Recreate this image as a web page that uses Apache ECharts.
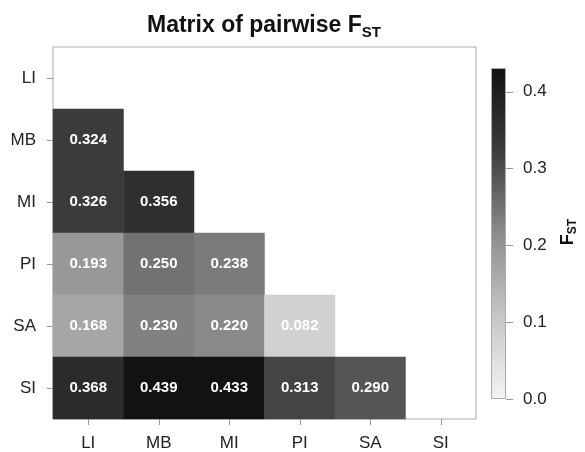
<!DOCTYPE html>
<html><head><meta charset="utf-8">
<script src="https://cdn.jsdelivr.net/npm/echarts@6/dist/echarts.min.js"></script>
<style>html,body{margin:0;padding:0;background:#fff}#c{width:585px;height:452px}</style>
</head><body><div id="c"></div>
<script>
const populations = ['LI', 'MB', 'MI', 'PI', 'SA', 'SI'];
const fstMB = [0.324];
const fstMI = [0.326, 0.356];
const fstPI = [0.193, 0.250, 0.238];
const fstSA = [0.168, 0.230, 0.220, 0.082];
const fstSI = [0.368, 0.439, 0.433, 0.313, 0.290];
const colorTicks = [0, 0.1, 0.2, 0.3, 0.4];
const colorMin = 0;
const colorMax = 0.431;
const grayRamp = ['#f4f4f4', '#c6c6c6', '#8c8c8c', '#3c3c3c', '#121212'];

const FONT = "'Liberation Sans', Arial, sans-serif";
const rows = { MB: fstMB, MI: fstMI, PI: fstPI, SA: fstSA, SI: fstSI };
const cells = [];
Object.keys(rows).forEach(function (r) {
  const yi = populations.indexOf(r);
  rows[r].forEach(function (v, xi) { cells.push([xi, yi, v]); });
});
const barGradient = new echarts.graphic.LinearGradient(0, 0, 0, 1,
  grayRamp.slice().reverse().map(function (c, i) { return { offset: i / (grayRamp.length - 1), color: c }; }));

const chart = echarts.init(document.getElementById('c'));
chart.setOption({
  animation: false,
  backgroundColor: '#fff',
  title: {
    text: '{a|Matrix of pairwise F}{b|ST}',
    left: 147, top: 12, padding: 0,
    textStyle: {
      fontFamily: FONT,
      rich: {
        a: { fontSize: 23, fontWeight: 'bold', color: '#111', lineHeight: 28, fontFamily: FONT },
        b: { fontSize: 15, fontWeight: 'bold', color: '#111', lineHeight: 18, verticalAlign: 'bottom', fontFamily: FONT }
      }
    }
  },
  grid: [
    { left: 53, top: 47, width: 423, height: 372, show: true, borderColor: '#aaa', borderWidth: 1, outerBoundsMode: 'none' },
    { left: 491, top: 68, width: 15, height: 331, show: false, outerBoundsMode: 'none' }
  ],
  xAxis: [
    {
      gridIndex: 0, type: 'category', data: populations,
      axisLine: { show: false },
      axisTick: { show: true, alignWithLabel: true, length: 6, lineStyle: { color: '#999' } },
      axisLabel: { fontSize: 17, color: '#222', margin: 16, fontFamily: FONT },
      splitLine: { show: false }, splitArea: { show: false }
    },
    { gridIndex: 1, type: 'category', data: ['F'], show: false }
  ],
  yAxis: [
    {
      gridIndex: 0, type: 'category', inverse: true, data: populations,
      axisLine: { show: false },
      axisTick: { show: true, alignWithLabel: true, length: 6, lineStyle: { color: '#999' } },
      axisLabel: { fontSize: 17, color: '#222', margin: 17, fontFamily: FONT },
      splitLine: { show: false }, splitArea: { show: false }
    },
    {
      gridIndex: 1, type: 'value', position: 'right', min: colorMin, max: colorMax,
      axisLine: { show: false },
      axisTick: { show: true, length: 7, lineStyle: { color: '#999' }, customValues: colorTicks },
      axisLabel: { fontSize: 17, color: '#222', margin: 17, fontFamily: FONT, customValues: colorTicks,
        formatter: function (v) { return v.toFixed(1); } },
      splitLine: { show: false }
    }
  ],
  visualMap: {
    type: 'continuous', show: false, min: colorMin, max: colorMax, seriesIndex: 0, dimension: 2,
    inRange: { color: grayRamp },
    outOfRange: { color: [grayRamp[grayRamp.length - 1]] }
  },
  series: [
    {
      type: 'heatmap', xAxisIndex: 0, yAxisIndex: 0, data: cells,
      label: { show: true, color: '#fff', fontWeight: 'bold', fontSize: 15, fontFamily: FONT,
        formatter: function (p) { return p.value[2].toFixed(3); } },
      itemStyle: { borderWidth: 0 },
      emphasis: { disabled: true }
    },
    {
      type: 'bar', xAxisIndex: 1, yAxisIndex: 1, data: [colorMax], barWidth: '100%', silent: true,
      itemStyle: { color: barGradient, borderColor: '#aaa', borderWidth: 1 }
    }
  ],
  graphic: [
    {
      type: 'text', x: 568, y: 232, rotation: Math.PI / 2,
      style: {
        text: '{a|F}{b|ST}', align: 'center', verticalAlign: 'middle',
        rich: {
          a: { fontSize: 18, fontWeight: 'bold', lineHeight: 22, fill: '#111', color: '#111', fontFamily: FONT },
          b: { fontSize: 12, fontWeight: 'bold', lineHeight: 14, verticalAlign: 'bottom', fill: '#111', color: '#111', fontFamily: FONT }
        }
      }
    }
  ]
});
</script></body></html>
